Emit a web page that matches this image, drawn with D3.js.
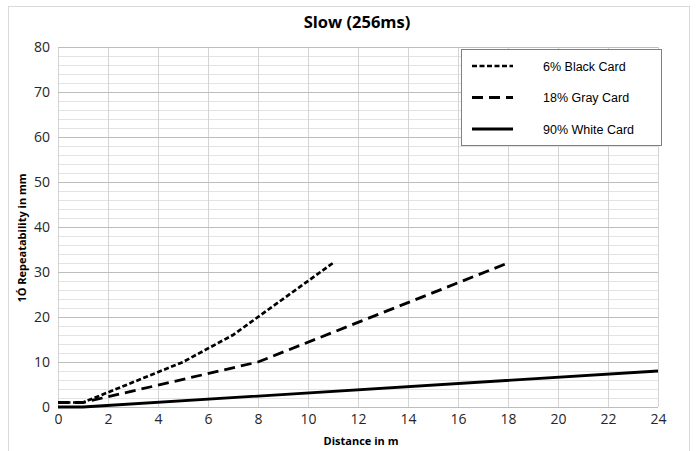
<!DOCTYPE html>
<html>
<head>
<meta charset="utf-8">
<script src="https://cdn.jsdelivr.net/npm/d3@7"></script>
<style>
  html, body { margin: 0; padding: 0; background: #fff; }
  svg { display: block; }
</style>
</head>
<body>
<svg id="chart" width="696" height="451"></svg>
<script>
// Repeatability vs. distance, one series per target card
const seriesNames = ["6% Black Card", "18% Gray Card", "90% White Card"];
const blackDist = [0, 1, 5, 7, 11];
const blackRep  = [1, 1, 10, 16, 32];
const grayDist  = [0, 1, 8, 18];
const grayRep   = [1, 1, 10, 32];
const whiteDist = [0, 1, 24];
const whiteRep  = [0, 0, 8];
const xTicks = [0, 2, 4, 6, 8, 10, 12, 14, 16, 18, 20, 22, 24];
const yTicks = [0, 10, 20, 30, 40, 50, 60, 70, 80];
const yMinor = d3.range(0, 81, 2);

const svg = d3.select("#chart");
const W = 696, H = 451;
const m = { left: 58, right: 38, top: 47, bottom: 44 };
const x = d3.scaleLinear().domain([0, 24]).range([m.left, W - m.right]);
const y = d3.scaleLinear().domain([0, 80]).range([H - m.bottom, m.top]);

// chart frame
svg.append("rect")
  .attr("x", 8.5).attr("y", 6.5).attr("width", 681).attr("height", 470)
  .attr("fill", "none").attr("stroke", "#d9d9d9").attr("stroke-width", 1);

// title
svg.append("text")
  .attr("x", 357).attr("y", 28)
  .attr("text-anchor", "middle")
  .attr("font-family", "Open Sans, sans-serif")
  .attr("font-weight", "bold").attr("font-size", 16.5)
  .attr("fill", "#000")
  .text("Slow (256ms)");

// gridlines
const grid = svg.append("g");
grid.selectAll(".ym").data(yMinor.filter(v => v % 10 !== 0)).join("line")
  .attr("x1", x(0)).attr("x2", x(24))
  .attr("y1", d => Math.round(y(d)) + 0.5).attr("y2", d => Math.round(y(d)) + 0.5)
  .attr("stroke", "#e3e3e3").attr("stroke-width", 1);
grid.selectAll(".xg").data(xTicks).join("line")
  .attr("x1", d => Math.round(x(d)) + 0.5).attr("x2", d => Math.round(x(d)) + 0.5)
  .attr("y1", y(0)).attr("y2", y(80))
  .attr("stroke", "#d4d4d4").attr("stroke-width", 1);
grid.selectAll(".yM").data(yTicks).join("line")
  .attr("x1", x(0)).attr("x2", x(24))
  .attr("y1", d => Math.round(y(d)) + 0.5).attr("y2", d => Math.round(y(d)) + 0.5)
  .attr("stroke", "#bdbdbd").attr("stroke-width", 1);

// axes (labels only)
const xAxis = svg.append("g")
  .attr("transform", `translate(0,${y(0)})`)
  .call(d3.axisBottom(x).tickValues(xTicks).tickSize(0).tickPadding(7));
const yAxis = svg.append("g")
  .attr("transform", `translate(${x(0)},0)`)
  .call(d3.axisLeft(y).tickValues(yTicks).tickSize(0).tickPadding(8));
[xAxis, yAxis].forEach(g => {
  g.select(".domain").remove();
  g.selectAll("text")
    .attr("font-family", "Open Sans, sans-serif")
    .attr("font-size", 14).attr("fill", "#262626");
});

// axis titles
svg.append("text")
  .attr("x", 361).attr("y", 445)
  .attr("text-anchor", "middle")
  .attr("font-family", "Open Sans, sans-serif")
  .attr("font-weight", "bold").attr("font-size", 11).attr("fill", "#000")
  .text("Distance in m");
svg.append("text")
  .attr("transform", "translate(26,238) rotate(-90)")
  .attr("text-anchor", "middle")
  .attr("font-family", "Open Sans, sans-serif")
  .attr("font-weight", "bold").attr("font-size", 11).attr("fill", "#000")
  .text("1Ó Repeatability in mm");

// series
const styles = [
  { dash: "5,2.5", width: 2.7 },
  { dash: "11,6", width: 2.8 },
  { dash: null, width: 2.8 }
];
const series = [
  d3.zip(blackDist, blackRep),
  d3.zip(grayDist, grayRep),
  d3.zip(whiteDist, whiteRep)
];
const line = d3.line().x(d => x(d[0])).y(d => y(d[1]));
svg.append("g").selectAll("path").data(series).join("path")
  .attr("d", line)
  .attr("fill", "none")
  .attr("stroke", "#000")
  .attr("stroke-width", (d, i) => styles[i].width)
  .attr("stroke-dasharray", (d, i) => styles[i].dash);

// legend
const lg = svg.append("g");
lg.append("rect")
  .attr("x", 461.5).attr("y", 49.5).attr("width", 200).attr("height", 96)
  .attr("fill", "#fff").attr("stroke", "#7f7f7f").attr("stroke-width", 1);
const rows = lg.selectAll("g.row").data(seriesNames).join("g")
  .attr("transform", (d, i) => `translate(0,${66 + i * 31.5})`);
rows.append("line")
  .attr("x1", 472).attr("x2", 513).attr("y1", 0).attr("y2", 0)
  .attr("stroke", "#000")
  .attr("stroke-width", (d, i) => styles[i].width)
  .attr("stroke-dasharray", (d, i) => styles[i].dash);
rows.append("text")
  .attr("x", 543).attr("y", 4.5)
  .attr("font-family", "Liberation Sans, Arial, sans-serif")
  .attr("font-size", 12.5).attr("fill", "#000")
  .text(d => d);
</script>
</body>
</html>
